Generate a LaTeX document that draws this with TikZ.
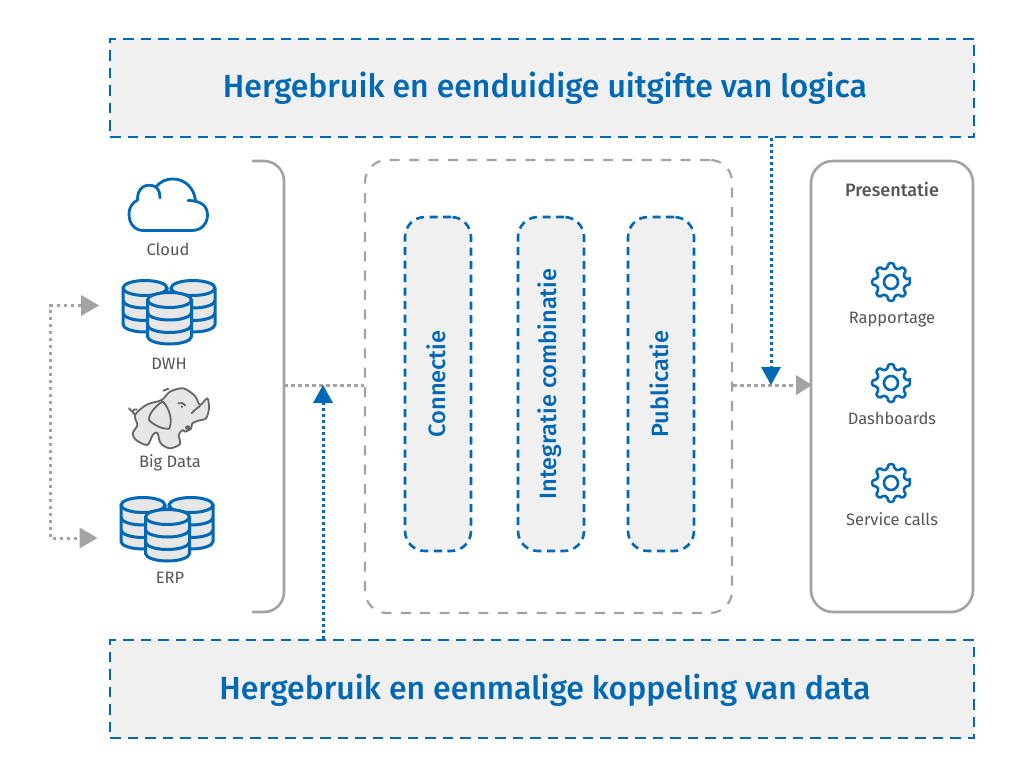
\documentclass[tikz,border=0pt]{standalone}
\usepackage{fontspec}
\setmainfont{Fira Sans}[BoldFont={Fira Sans Medium}]
\usetikzlibrary{arrows.meta,calc}
\definecolor{bl}{HTML}{0068B4}
\definecolor{gr}{HTML}{A3A3A3}
\definecolor{tx}{HTML}{555555}
\definecolor{fl}{HTML}{F0F0F0}
\definecolor{dbf}{HTML}{E6E6E6}
\newcommand{\Fs}[1]{\fontsize{#1}{#1}\selectfont}
\tikzset{
 x=1pt,y=-1pt,
 band/.style={draw=bl,fill=fl,line width=2.6pt,dash pattern=on 10.5pt off 7pt,minimum width=864pt,minimum height=98pt,inner sep=0pt},
 bandtext/.style={inner sep=0pt,text=bl,font=\Fs{32}\bfseries},
 pill/.style={draw=bl,fill=fl,line width=2.6pt,dash pattern=on 8pt off 5.5pt,rounded corners=20pt,minimum width=66pt,minimum height=334pt,inner sep=0pt},
 pilltext/.style={rotate=90,text=bl,font=\Fs{23.6}\bfseries},
 lab/.style={text=tx,font=\Fs{16.5},inner sep=0pt},
 gdot/.style={draw=gr,line width=3pt,dash pattern=on 3.5pt off 3.5pt},
 bdot/.style={draw=bl,line width=3pt,dash pattern=on 3pt off 3pt},
 ico/.style={draw=bl,line width=3pt,line join=round},
 ele/.style={draw=black!60,line width=1.8pt,line cap=round,line join=round},
 pics/cyl/.style={code={
   \path[ico,fill=dbf] (-22,7.5) -- (-22,44) arc[start angle=180,end angle=0,x radius=22,y radius=7.5] -- (22,7.5) -- cycle;
   \draw[ico,fill=dbf] (0,7.5) ellipse[x radius=22,y radius=7.5];
   \draw[ico] (-22,20) arc[start angle=180,end angle=0,x radius=22,y radius=7.5];
   \draw[ico] (-22,32.5) arc[start angle=180,end angle=0,x radius=22,y radius=7.5];
 }},
 pics/stack/.style={code={
   \pic at (-24.5,0) {cyl};
   \pic at (23.5,0) {cyl};
   \pic at (0,12) {cyl};
 }},
 pics/gear/.style={code={
   \draw[ico,line width=2.6pt,rounded corners=1.4pt,fill=white]
     (-8:19) \foreach \a in {0,45,...,315}{ -- (\a-8:19) -- (\a+8:19) -- (\a+14:14.5) -- (\a+31:14.5) } -- cycle;
   \draw[ico,line width=2.6pt] (0,0) circle[radius=7];
 }},
}
\begin{document}
\begin{tikzpicture}
\useasboundingbox (0,0) rectangle (1024,775);
\fill[white] (0,0) rectangle (1024,775);

% bands
\node[band] (top) at (542,88) {};
\node[band] (bot) at (542,689) {};
\node[bandtext] (toptext) at ([xshift=3pt,yshift=-0.5pt]top.center) {Hergebruik en eenduidige uitgifte van logica};
\node[bandtext] (bottext) at ([xshift=3pt,yshift=-1.5pt]bot.center) {Hergebruik en eenmalige koppeling van data};

% left bracket
\coordinate (brT) at (252,161);
\coordinate (brB) at (252,612);
\coordinate (brM) at (284,385);
\draw[gr,line width=2.6pt,rounded corners=20pt] (brT) -| (284,612) -- (brB);

% middle group
\node[draw=gr,line width=2.2pt,dash pattern=on 10pt off 9.4pt,rounded corners=22pt,minimum width=367pt,minimum height=453pt,inner sep=0pt] (mid) at (548.5,386.5) {};

% pills
\node[pill] (p1) at (438,384) {};
\node[pill] (p2) at (551,384) {};
\node[pill] (p3) at (661,384) {};
\node[pilltext] (t1) at ([xshift=-2pt]p1.center) {Connectie};
\node[pilltext] (t2) at ([xshift=-1pt]p2.center) {Integratie combinatie};
\node[pilltext] (t3) at ([xshift=-2pt]p3.center) {Publicatie};

% presentation
\node[draw=gr,line width=2.6pt,rounded corners=22pt,minimum width=162pt,minimum height=451pt,inner sep=0pt] (pres) at (892,386.5) {};
\node[text=tx,font=\Fs{18}\bfseries,inner sep=0pt] (prestitle) at (892,189) {Presentatie};

% gears
\pic at (891,282) {gear};
\pic at (891,383) {gear};
\pic at (891,483) {gear};
\node[lab] (rap) at (892,320) {Rapportage};
\node[lab] (das) at (892,418) {Dashboards};
\node[lab] (ser) at (892,519) {Service calls};

% cloud
\draw[ico,line width=2.8pt,line cap=round]
 (143.5,230.5) -- (192,230.5)
 .. controls (202,230.5) and (207.5,223) .. (207.5,215)
 .. controls (207.5,206) and (201,200.5) .. (188,200.5)
 (195.5,200.5) .. controls (194,187) and (184,179) .. (173,179)
 .. controls (165,179) and (160,182) .. (156,187)
 .. controls (146,182) and (137,188) .. (137.5,200)
 .. controls (132,203) and (129,208) .. (129,214)
 .. controls (129,224) and (135,230.5) .. (143.5,230.5)
 (156,187) .. controls (159,190) and (160,194) .. (160,198);
\node[lab] (cloud) at (168,249) {Cloud};

% databases
\pic at (169.5,280.5) {stack};
\node[lab] (dwh) at (169,364) {DWH};
\pic at (167.5,497.5) {stack};
\node[lab] (erp) at (170,578) {ERP};

% elephant
\begin{scope}[shift={(120,380)},x=0.3333pt,y=-0.3333pt]
\draw[ele,fill=dbf]
 plot[smooth cycle,tension=0.5] coordinates {
 (45,105) (80,74) (125,60) (150,35) (190,25) (225,48) (240,75) (262,55) (267,85) (258,115)
 (235,122) (217,130) (213,146) (195,155) (188,150) (176,165) (180,192) (150,205) (122,190) (112,158)
 (98,165) (82,195) (48,180) (38,160) (52,135)};
\draw[ele,fill=dbf] (128,64) .. controls (103,80) and (82,108) .. (88,122)
 .. controls (100,132) and (122,148) .. (148,146) .. controls (158,120) and (150,88) .. (128,64);
\draw[ele] (45,105) .. controls (40,98) and (35,92) .. (27,85);
\draw[ele] (40,100) .. controls (35,90) and (45,85) .. (50,88);
\draw[ele] (130,32) -- (145,26);
\draw[ele] (215,100) .. controls (222,90) and (232,85) .. (240,78);
\draw[ele] (175,70) .. controls (182,66) and (192,70) .. (196,76);
\fill[black!65] (186,80) circle[radius=3.5];
\fill[black!60] (203,143) ellipse[x radius=8,y radius=7];
\end{scope}
\node[lab] (big) at (170,462.5) {Big Data};

% connector anchors
\coordinate (a1) at (99,305.5);
\coordinate (a2) at (97.5,538);
\coordinate (tipU) at (323,385);
\coordinate (tipD) at (771,385);
\coordinate (tipR) at (812,385);

% connectors
\draw[gdot] (brM) -- (mid.west |- brM);
\draw[gdot] (mid.east |- brM) -- ($(tipR)+(-16,0)$);
\draw[gdot] ($(a1)+(-18,0)$) -- (50,305.5) -- (50,538) -- ($(a2)+(-18,0)$);
\draw[bdot] (bot.north -| tipU) -- ($(tipU)+(0,17)$);
\draw[bdot] (top.south -| tipD) -- ($(tipD)+(0,-17)$);
\fill[bl] (tipU) -- ++(10,18) -- ++(-20,0) -- cycle;
\fill[bl] (tipD) -- ++(10,-18) -- ++(-20,0) -- cycle;
\fill[gr] (a1) -- ++(-18,-10.5) -- ++(0,21) -- cycle;
\fill[gr] (a2) -- ++(-18,-10.5) -- ++(0,21) -- cycle;
\fill[gr] (tipR) -- ++(-16,-10) -- ++(0,20) -- cycle;
\end{tikzpicture}
\end{document}
